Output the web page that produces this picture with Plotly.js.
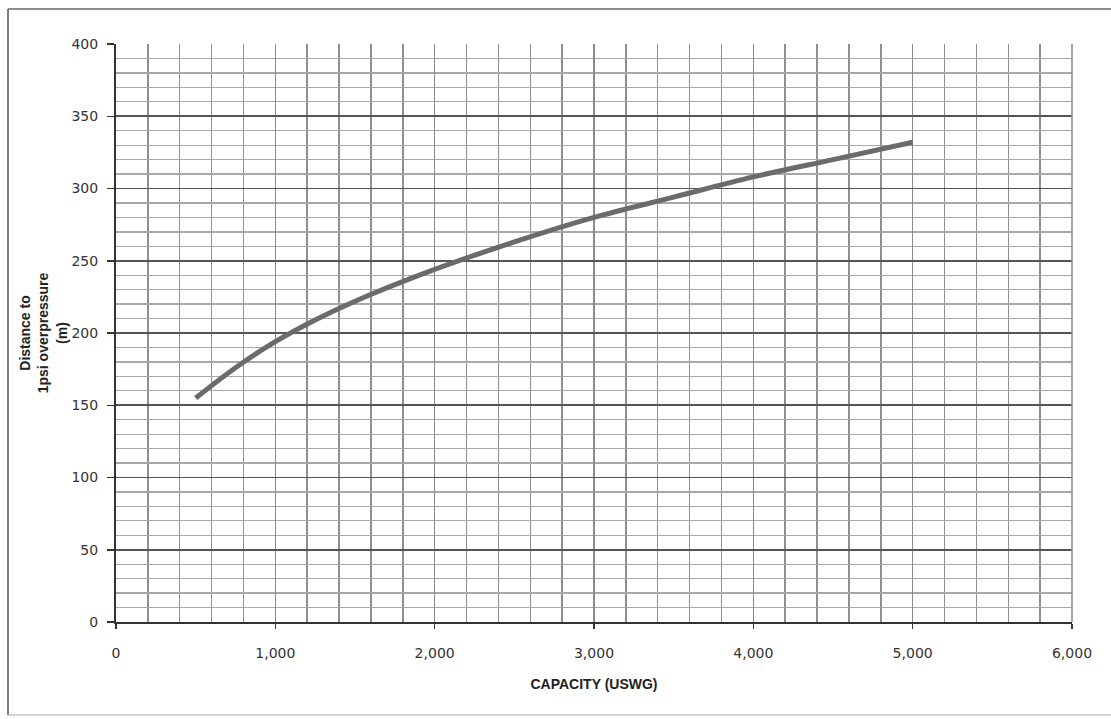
<!DOCTYPE html>
<html>
<head>
<meta charset="utf-8">
<script src="https://cdn.plot.ly/plotly-3.0.1.min.js"></script>
<style>
  html, body { margin: 0; padding: 0; background: #fff; }
  #chart { width: 1111px; height: 719px; }
</style>
</head>
<body>
<div id="chart"></div>
<script>
// Capacity (USWG)
const capacity = [500, 750, 1000, 1250, 1500, 2000, 2500, 3000, 3500, 4000, 4500, 5000];
// Distance to 1psi overpressure (m)
const distance = [155, 176, 194, 209, 222, 244, 263, 280, 294, 308, 320, 332];

const xTickVals = [0, 1000, 2000, 3000, 4000, 5000, 6000];
const xTickText = ['0', '1,000', '2,000', '3,000', '4,000', '5,000', '6,000'];
const yTickVals = [0, 50, 100, 150, 200, 250, 300, 350, 400];

const trace = {
  x: capacity,
  y: distance,
  type: 'scatter',
  mode: 'lines',
  line: { color: '#6b6b6b', width: 5, shape: 'spline', smoothing: 1 },
  hoverinfo: 'skip'
};

// frame around the chart (paper coords relative to plot area)
const pl = 116, pr = 1072, pt = 44, pb = 622;
const pw = pr - pl, ph = pb - pt;
function px(x) { return (x - pl) / pw; }
function py(y) { return (pb - y) / ph; }

const tickFont = { family: 'DejaVu Sans, Verdana, sans-serif', size: 14, color: '#333333' };

const layout = {
  width: 1111,
  height: 719,
  margin: { l: 116, r: 39, t: 44, b: 97 },
  paper_bgcolor: '#ffffff',
  plot_bgcolor: '#ffffff',
  showlegend: false,
  font: { family: 'DejaVu Sans, Verdana, sans-serif', color: '#333333', size: 12 },
  xaxis: {
    range: [0, 6000],
    tickvals: xTickVals,
    ticktext: xTickText,
    showgrid: true,
    gridcolor: '#8a8a8a',
    gridwidth: 1.5,
    zeroline: false,
    showline: true,
    linecolor: '#333333',
    linewidth: 2,
    ticks: 'outside',
    ticklen: 5,
    tickwidth: 1.5,
    tickcolor: '#333333',
    ticklabelstandoff: 12,
    tickfont: tickFont,
    minor: { dtick: 200, showgrid: true, gridcolor: '#8f8f8f', gridwidth: 1.5 },
    title: {
      text: '<b>CAPACITY (USWG)</b>',
      font: { family: 'Liberation Sans, Arial, sans-serif', size: 14, color: '#222222' },
      standoff: 19
    }
  },
  yaxis: {
    range: [0, 400],
    tickvals: yTickVals,
    showgrid: true,
    gridcolor: '#555555',
    gridwidth: 1.8,
    zeroline: false,
    showline: true,
    linecolor: '#333333',
    linewidth: 2,
    ticks: 'outside',
    ticklen: 7,
    tickwidth: 1.5,
    tickcolor: '#333333',
    ticklabelstandoff: 6,
    tickfont: tickFont,
    minor: { dtick: 10, showgrid: true, gridcolor: '#a8a8a8', gridwidth: 1.3 },
    title: {
      text: '<b>Distance to<br>1psi overpressure<br>(m)</b>',
      font: { family: 'Liberation Sans, Arial, sans-serif', size: 14, color: '#222222' },
      standoff: 1
    }
  },
  shapes: [
    { type: 'line', xref: 'paper', yref: 'paper', x0: 1, x1: 1, y0: 0, y1: 1, line: { color: '#8a8a8a', width: 1.5 } },
    { type: 'line', xref: 'paper', yref: 'paper', x0: px(8), x1: px(8), y0: py(9), y1: py(715), line: { color: '#555555', width: 1.5 } },
    { type: 'line', xref: 'paper', yref: 'paper', x0: px(8), x1: px(1111), y0: py(9), y1: py(9), line: { color: '#666666', width: 1.5 } },
    { type: 'line', xref: 'paper', yref: 'paper', x0: px(8), x1: px(1111), y0: py(715), y1: py(715), line: { color: '#aaaaaa', width: 1 } }
  ]
};

Plotly.newPlot('chart', [trace], layout, { displayModeBar: false, staticPlot: true });
</script>
</body>
</html>
